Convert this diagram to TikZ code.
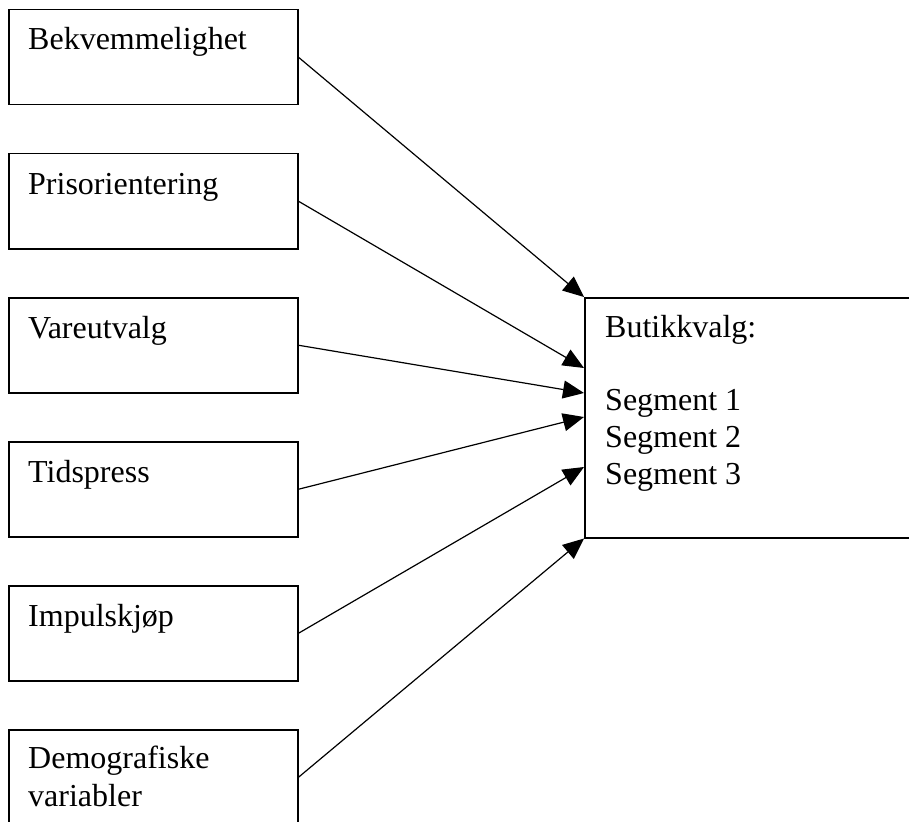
\documentclass[tikz,border=0pt]{standalone}
\usepackage{fontspec}
\setmainfont{Liberation Serif}
\usetikzlibrary{arrows.meta}
\begin{document}
\begin{tikzpicture}[x=1pt,y=-1pt,
  factor/.style={draw, line width=1.5pt, rectangle, minimum width=289pt, minimum height=95pt, inner sep=0pt, anchor=north west},
  result/.style={draw, line width=1.5pt, rectangle, minimum width=420pt, minimum height=240pt, inner sep=0pt, anchor=north west},
  lbl/.style={anchor=base west, inner sep=0pt, font=\fontsize{32}{37}\selectfont, align=left},
  link/.style={line width=1.2pt, -{Triangle[length=21pt,width=18pt]}}]
\useasboundingbox (0,0) rectangle (909,821);
\clip (0,0) rectangle (909,821);
\node[factor] (b1) at (8,9) {};
\node[factor] (b2) at (8,153) {};
\node[factor] (b3) at (8,297) {};
\node[factor] (b4) at (8,441) {};
\node[factor] (b5) at (8,585) {};
\node[factor] (b6) at (8,729) {};
\node[result] (seg) at (584,297) {};
\node[lbl] (l1) at (28,50) {Bekvemmelighet};
\node[lbl] (l2) at (28,194) {Prisorientering};
\node[lbl] (l3) at (28,338) {Vareutvalg};
\node[lbl] (l4) at (28,482) {Tidspress};
\node[lbl] (l5) at (28,626) {Impulskjøp};
\node[lbl] (l6) at (28,768) {Demografiske};
\node[lbl] (l6b) at (28,806) {variabler};
\node[lbl] (s0) at (605,337) {Butikkvalg:};
\node[lbl] (s1) at (605,410) {Segment 1};
\node[lbl] (s2) at (605,447) {Segment 2};
\node[lbl] (s3) at (605,484) {Segment 3};
\coordinate (t2) at (584,368);
\coordinate (t3) at (584,393);
\coordinate (t4) at (584,417);
\coordinate (t5) at (584,467);
\draw[link] (b1.east) -- (seg.north west);
\draw[link] (b2.east) -- (t2);
\draw[link] (b3.east) -- (t3);
\draw[link] (b4.east) -- (t4);
\draw[link] (b5.east) -- (t5);
\draw[link] (b6.east) -- (seg.south west);
\end{tikzpicture}
\end{document}
